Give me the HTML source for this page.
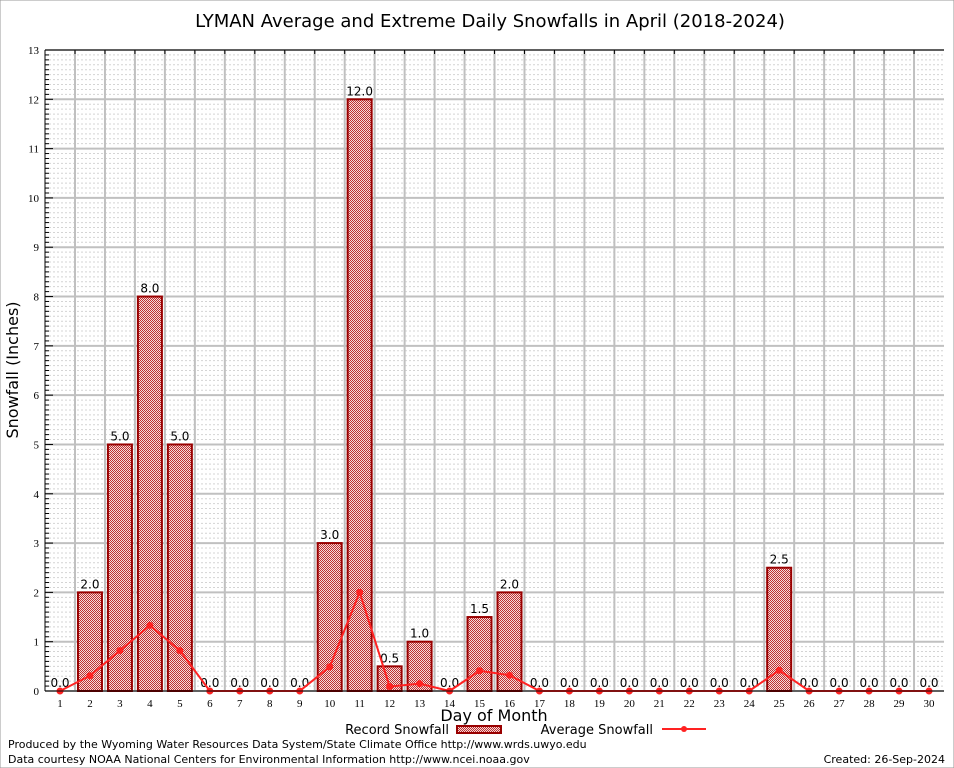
<!DOCTYPE html>
<html><head><meta charset="utf-8"><style>
body{margin:0;background:#fff}
svg{display:block;font-family:"DejaVu Sans","Liberation Sans",sans-serif}
</style></head><body>
<svg id="c" width="954" height="768" xmlns="http://www.w3.org/2000/svg">
<defs>
<pattern id="chk" width="2" height="2" patternUnits="userSpaceOnUse">
<rect width="2" height="2" fill="#f4dcdc"/><rect width="1" height="1" fill="#c03030"/><rect x="1" y="1" width="1" height="1" fill="#c03030"/>
</pattern>
</defs>
<rect x="0" y="0" width="954" height="768" fill="#fff" stroke="#999"/>
<text x="490" y="27" font-size="18" text-anchor="middle">LYMAN Average and Extreme Daily Snowfalls in April (2018-2024)</text>
<g id="grid"></g>
<g id="bars"></g>
<g id="line"></g>
<g id="axes"></g>
<text x="18" y="370" font-size="16" text-anchor="middle" transform="rotate(-90 18 370)">Snowfall (Inches)</text>
<text x="494" y="721" font-size="16" text-anchor="middle">Day of Month</text>
<g>
<text x="449" y="734" font-size="13" text-anchor="end">Record Snowfall</text>
<rect x="457" y="726" width="44" height="7" fill="url(#chk)" stroke="#900" stroke-width="2"/>
<text x="653" y="734" font-size="13" text-anchor="end">Average Snowfall</text>
<line x1="662" y1="729" x2="706" y2="729" stroke="#f22" stroke-width="2"/>
<circle cx="684" cy="729" r="3" fill="#f22"/>
</g>
<text x="8" y="748" font-size="11">Produced by the Wyoming Water Resources Data System/State Climate Office http://www.wrds.uwyo.edu</text>
<text x="8" y="763" font-size="11">Data courtesy NOAA National Centers for Environmental Information http://www.ncei.noaa.gov</text>
<text x="945" y="763" font-size="11" text-anchor="end">Created: 26-Sep-2024</text>
</svg>
<script>
const days=[1,2,3,4,5,6,7,8,9,10,11,12,13,14,15,16,17,18,19,20,21,22,23,24,25,26,27,28,29,30];
const recordValues=[0,2,5,8,5,0,0,0,0,3,12,0.5,1,0,1.5,2,0,0,0,0,0,0,0,0,2.5,0,0,0,0,0];
const averageValues=[0,0.31,0.82,1.33,0.82,0,0,0,0,0.49,2.0,0.09,0.15,0,0.41,0.32,0,0,0,0,0,0,0,0,0.42,0,0,0,0,0];
const yTicks=[0,1,2,3,4,5,6,7,8,9,10,11,12,13];
const NS="http://www.w3.org/2000/svg";
const L=45,R=944,T=50,B=691,YMAX=13;
const x=d=>L+15+(d-1)*(R-L-30)/29;
const y=v=>B-v*(B-T)/YMAX;
function mk(p,tag,a){const e=document.createElementNS(NS,tag);for(const k in a)e.setAttribute(k,a[k]);p.appendChild(e);return e;}
const g=document.getElementById('grid'),bg=document.getElementById('bars'),lg=document.getElementById('line'),ax=document.getElementById('axes');
for(let v=0;v<YMAX;v+=0.1){const e=mk(g,'line',{x1:L,x2:R,y1:y(v),y2:y(v),stroke:'#d4d4d4','stroke-width':1,'stroke-dasharray':'2,2'});

}
yTicks.forEach(t=>{const e=mk(g,'line',{x1:L,x2:R,y1:y(t),y2:y(t),stroke:'#c0c0c0','stroke-width':2});


const tk=mk(ax,'line',{x1:L,x2:L+8,y1:y(t),y2:y(t),stroke:'#000','stroke-width':1});


const lb=mk(ax,'text',{x:L-6,y:y(t)+4,'font-size':11,'text-anchor':'end','font-family':'Liberation Serif,serif'});lb.textContent=t;

});
for(let v=0;v<YMAX;v+=0.1){if(Math.abs(v-Math.round(v))<0.01)continue;const e=mk(ax,'line',{x1:L,x2:L+4,y1:y(v),y2:y(v),stroke:'#000'});

}
days.forEach((d,i)=>{const xb=x(d)+15;if(i<days.length-1){const e=mk(g,'line',{x1:xb,x2:xb,y1:T,y2:B,stroke:'#c0c0c0','stroke-width':2});


const tk=mk(ax,'line',{x1:xb,x2:xb,y1:T,y2:T+4,stroke:'#000'});

}
const lb=mk(ax,'text',{x:x(d),y:B+16,'font-size':11,'text-anchor':'middle','font-family':'Liberation Serif,serif'});lb.textContent=d;


const v=recordValues[i];
if(v>0){const r=mk(bg,'rect',{x:x(d)-12,y:y(v),width:24,height:B-y(v),fill:'url(#chk)',stroke:'#900','stroke-width':2});

}
const t=mk(bg,'text',{x:x(d),y:y(v)-4,'font-size':12,'text-anchor':'middle'});t.textContent=v.toFixed(1);

});
const pl=mk(lg,'polyline',{points:days.map((d,i)=>x(d)+','+y(averageValues[i])).join(' '),fill:'none',stroke:'#f22','stroke-width':2});


days.forEach((d,i)=>{const c=mk(lg,'circle',{cx:x(d),cy:y(averageValues[i]),r:3.5,fill:'#f22'});

});
const ya=mk(ax,'line',{x1:L,x2:L,y1:T,y2:B,stroke:'#000'});


const xa=mk(ax,'line',{x1:L,x2:R,y1:B,y2:B,stroke:'#000'});


const ta=mk(ax,'line',{x1:L,x2:R,y1:T,y2:T,stroke:'#000'});


</script>
</body></html>
